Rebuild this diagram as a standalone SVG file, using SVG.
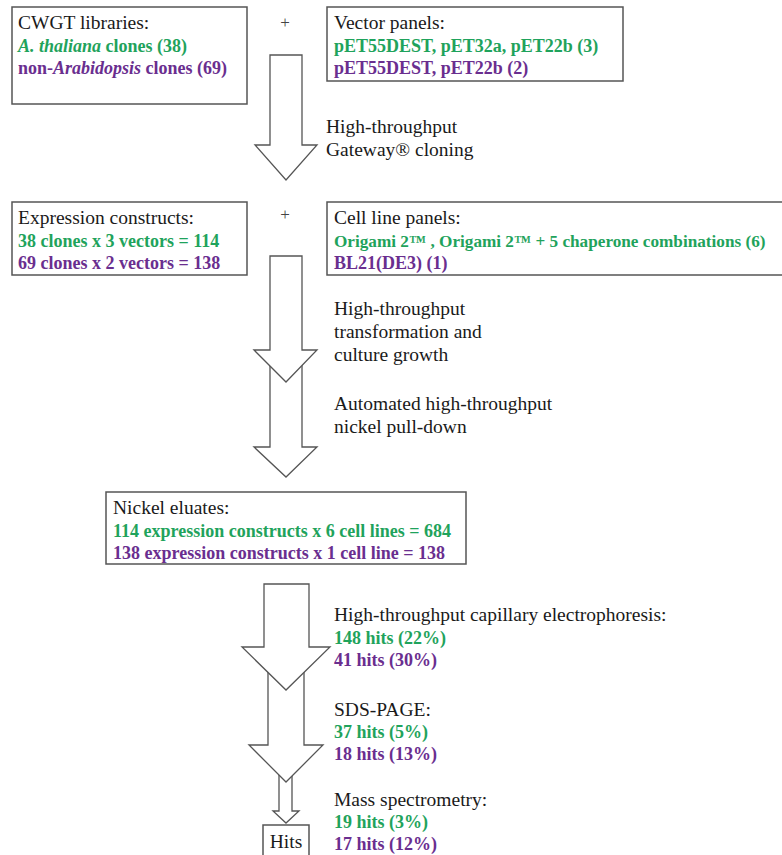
<svg xmlns="http://www.w3.org/2000/svg" width="782" height="855" viewBox="0 0 782 855">
<style>
.box{fill:#fff;stroke:#555;stroke-width:1.5}
.arr{fill:#fff;stroke:#555;stroke-width:1.3;stroke-linejoin:miter}
text{font-family:"Liberation Serif","Times New Roman",serif;font-size:19.5px;fill:#1a1a1a}
.g{fill:#1fa35c;font-weight:bold;font-size:18px}
.p{fill:#6a2e8f;font-weight:bold;font-size:18px}
.plus{font-size:17px;fill:#444}
</style>
<rect width="782" height="855" fill="#fff"/>
<g id="connectors">
<polygon class="arr" points="279,775 292,775 292,811 299,811 286,823 273,811 279,811"/>
<polygon class="arr" points="268,670 304,670 304,745 323,745 286,782 249,745 268,745"/>
<polygon class="arr" points="264,584 309,584 309,647 330,647 286,690 242,647 264,647"/>
<polygon class="arr" points="270,360 302,360 302,447 317,447 286,477 254,447 270,447"/>
<polygon class="arr" points="270,256 302,256 302,350 317,350 286,382 254,350 270,350"/>
<polygon class="arr" points="270,55 302,55 302,145 317,145 286,180 255,145 270,145"/>
</g>
<g id="cwgt">
<rect class="box" x="12" y="7" width="235" height="97"/>
<text x="18" y="29">CWGT libraries:</text>
<text x="18" y="52" class="g"><tspan font-style="italic">A. thaliana</tspan> clones (38)</text>
<text x="18" y="74" class="p">non-<tspan font-style="italic">Arabidopsis</tspan> clones (69)</text>
</g>
<text class="plus" x="285" y="28" text-anchor="middle">+</text>
<g id="vector">
<rect class="box" x="327" y="7" width="296" height="74"/>
<text x="334" y="29">Vector panels:</text>
<text x="334" y="52" class="g">pET55DEST, pET32a, pET22b (3)</text>
<text x="334" y="74" class="p">pET55DEST, pET22b (2)</text>
</g>
<g id="gateway">
<text x="326" y="133">High-throughput</text>
<text x="326" y="156">Gateway® cloning</text>
</g>
<g id="expression">
<rect class="box" x="12" y="202" width="235" height="73"/>
<text x="18" y="224">Expression constructs:</text>
<text x="18" y="247" class="g">38 clones x 3 vectors = 114</text>
<text x="18" y="269" class="p">69 clones x 2 vectors = 138</text>
</g>
<text class="plus" x="285" y="220" text-anchor="middle">+</text>
<g id="cellline">
<rect class="box" x="327" y="202" width="480" height="73"/>
<text x="334" y="224">Cell line panels:</text>
<text x="334" y="247" class="g" style="font-size:17.2px">Origami 2™ , Origami 2™ + 5 chaperone combinations (6)</text>
<text x="334" y="269" class="p">BL21(DE3) (1)</text>
</g>
<g id="transformation">
<text x="334" y="315">High-throughput</text>
<text x="334" y="338">transformation and</text>
<text x="334" y="361">culture growth</text>
</g>
<g id="pulldown">
<text x="334" y="410">Automated high-throughput</text>
<text x="334" y="433">nickel pull-down</text>
</g>
<g id="eluates">
<rect class="box" x="106" y="492" width="360" height="72"/>
<text x="113" y="514">Nickel eluates:</text>
<text x="113" y="537" class="g">114 expression constructs x 6 cell lines = 684</text>
<text x="113" y="559" class="p">138 expression constructs x 1 cell line = 138</text>
</g>
<g id="ce">
<text x="334" y="621">High-throughput capillary electrophoresis:</text>
<text x="334" y="644" class="g">148 hits (22%)</text>
<text x="334" y="666" class="p">41 hits (30%)</text>
</g>
<g id="sds">
<text x="334" y="716">SDS-PAGE:</text>
<text x="334" y="738" class="g">37 hits (5%)</text>
<text x="334" y="760" class="p">18 hits (13%)</text>
</g>
<g id="ms">
<text x="334" y="806">Mass spectrometry:</text>
<text x="334" y="828" class="g">19 hits (3%)</text>
<text x="334" y="850" class="p">17 hits (12%)</text>
</g>
<g id="hits">
<rect class="box" x="263" y="825" width="46" height="40"/>
<text x="286" y="848" text-anchor="middle">Hits</text>
</g>
</svg>
